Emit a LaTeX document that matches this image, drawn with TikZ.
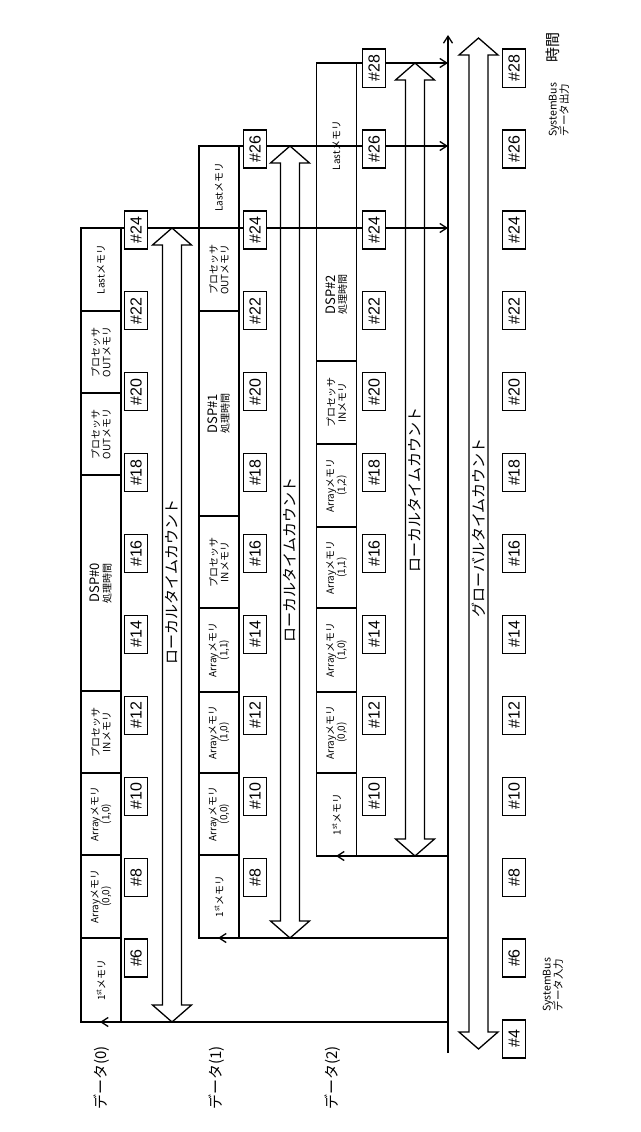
\documentclass[tikz,border=0pt]{standalone}
\usepackage{fontspec}
\setmainfont{Noto Sans CJK JP}
\newfontfamily\numfont{Liberation Sans}
\usetikzlibrary{arrows.meta,positioning}
\tikzstyle{mem} = [draw, line width=1.2pt, fill=white, rotate=90, minimum height=40pt, inner sep=1pt, align=center, font=\fontsize{10}{11}\selectfont]
\tikzstyle{slot} = [draw, line width=1.2pt, fill=white, rotate=90, minimum width=38pt, minimum height=23pt, inner sep=0pt, font=\numfont\fontsize{16}{16}\selectfont]
\tikzstyle{rowlabel} = [rotate=90, font=\fontsize{15}{15}\selectfont]
\tikzstyle{count} = [rotate=90, font=\fontsize{15}{15}\selectfont]
\tikzstyle{flow} = [line width=1.3pt, -{Straight Barb[length=7pt,width=9pt]}]
\newcommand{\fatarrow}[3]{% x, top tip, bottom tip
  \draw[line width=1.3pt, fill=white] (#1-9.5,#2+17) -- (#1-19.5,#2+17) -- (#1,#2) -- (#1+19.5,#2+17) -- (#1+9.5,#2+17)
    -- (#1+9.5,#3-17) -- (#1+19.5,#3-17) -- (#1,#3) -- (#1-19.5,#3-17) -- (#1-9.5,#3-17) -- cycle;}
\begin{document}
\begin{tikzpicture}[x=1pt, y=-1pt]
  \useasboundingbox (0,0) rectangle (640,1132);

  % local and global counters
  \fatarrow{172}{228}{1022}
  \fatarrow{290}{146}{938}
  \fatarrow{415}{63}{856}
  \fatarrow{478.5}{38}{1049}
  \node[count] (lc0) at (172,582) {ローカルタイムカウント};
  \node[count] (lc1) at (290,560) {ローカルタイムカウント};
  \node[count] (lc2) at (415,490) {ローカルタイムカウント};
  \node[count] (gc) at (478.5,528) {グローバルタイムカウント};

  % DSP#0
  \foreach \n/\lo/\hi/\txt in {a/1022/938/{1\textsuperscript{st}メモリ}, b/938/855/{Arrayメモリ\\(0,0)},
      c/855/773/{Arrayメモリ\\(1,0)}, d/773/691/{プロセッサ\\INメモリ}, e/691/475/{\fontsize{13}{14}\selectfont DSP\#0\\処理時間},
      f/475/393/{プロセッサ\\OUTメモリ}, g/393/311/{プロセッサ\\OUTメモリ}, h/311/228/{Lastメモリ}}
    \node[mem, minimum width={\lo-\hi}] (m0\n) at (101,{(\lo+\hi)/2}) {\txt};
  % DSP#1
  \foreach \n/\lo/\hi/\txt in {a/938/855/{1\textsuperscript{st}メモリ}, b/855/773/{Arrayメモリ\\(0,0)},
      c/773/692/{Arrayメモリ\\(1,0)}, d/692/608/{Arrayメモリ\\(1,1)}, e/608/516/{プロセッサ\\INメモリ},
      f/516/311/{\fontsize{13}{14}\selectfont DSP\#1\\処理時間}, g/311/228/{プロセッサ\\OUTメモリ}, h/228/146/{Lastメモリ}}
    \node[mem, minimum width={\lo-\hi}] (m1\n) at (219,{(\lo+\hi)/2}) {\txt};
  % DSP#2
  \foreach \n/\lo/\hi/\txt in {a/856/773/{1\textsuperscript{st}メモリ}, b/773/692/{Arrayメモリ\\(0,0)},
      c/692/608/{Arrayメモリ\\(1,0)}, d/608/527/{Arrayメモリ\\(1,1)}, e/527/444/{Arrayメモリ\\(1,2)},
      f/444/361/{プロセッサ\\INメモリ}, g/361/228/{\fontsize{13}{14}\selectfont DSP\#2\\処理時間}, h/228/63/{Lastメモリ}}
    \node[mem, minimum width={\lo-\hi}] (m2\n) at (336.5,{(\lo+\hi)/2}) {\txt};

  % time bus
  \coordinate (busbot) at (448,1053);
  \coordinate (bustop) at (448,35);
  \draw[flow] (busbot) -- (bustop);

  % data in / data out
  \foreach \r/\x/\lo/\hi in {0/81/1022/228, 1/199/938/146, 2/317/856/63} {
    \coordinate (in\r) at (448,\lo);
    \coordinate (tip\r) at (\x+19,\lo);
    \coordinate (from\r) at (\x,\hi);
    \coordinate (out\r) at (448,\hi);
    \draw[flow] (in\r) -- (tip\r);
    \draw[flow] (from\r) -- (out\r);
  }

  % time slots
  \foreach \t in {6,8,...,24} \node[slot] (s0-\t) at (136,{958-(\t-6)*40.45}) {\#\t};
  \foreach \t in {8,10,...,26} \node[slot] (s1-\t) at (255,{958-(\t-6)*40.45}) {\#\t};
  \foreach \t in {10,12,...,28} \node[slot] (s2-\t) at (374,{958-(\t-6)*40.45}) {\#\t};
  \foreach \t in {4,6,...,28} \node[slot] (sg-\t) at (514,{958-(\t-6)*40.45}) {\#\t};

  % labels
  \node[rowlabel] (d0) at (102,1078) {データ(0)};
  \node[rowlabel] (d1) at (217,1078) {データ(1)};
  \node[rowlabel] (d2) at (333,1078) {データ(2)};
  \node[rotate=90, align=center, font=\fontsize{10.5}{11.5}\selectfont] (sbin) at (553,985) {SystemBus\\データ入力};
  \node[rotate=90, align=center, font=\fontsize{10.5}{11.5}\selectfont] (sbout) at (559,110) {SystemBus\\データ出力};
  \node[rotate=90, font=\fontsize{15}{15}\selectfont] (time) at (553,48) {時間};
\end{tikzpicture}
\end{document}
